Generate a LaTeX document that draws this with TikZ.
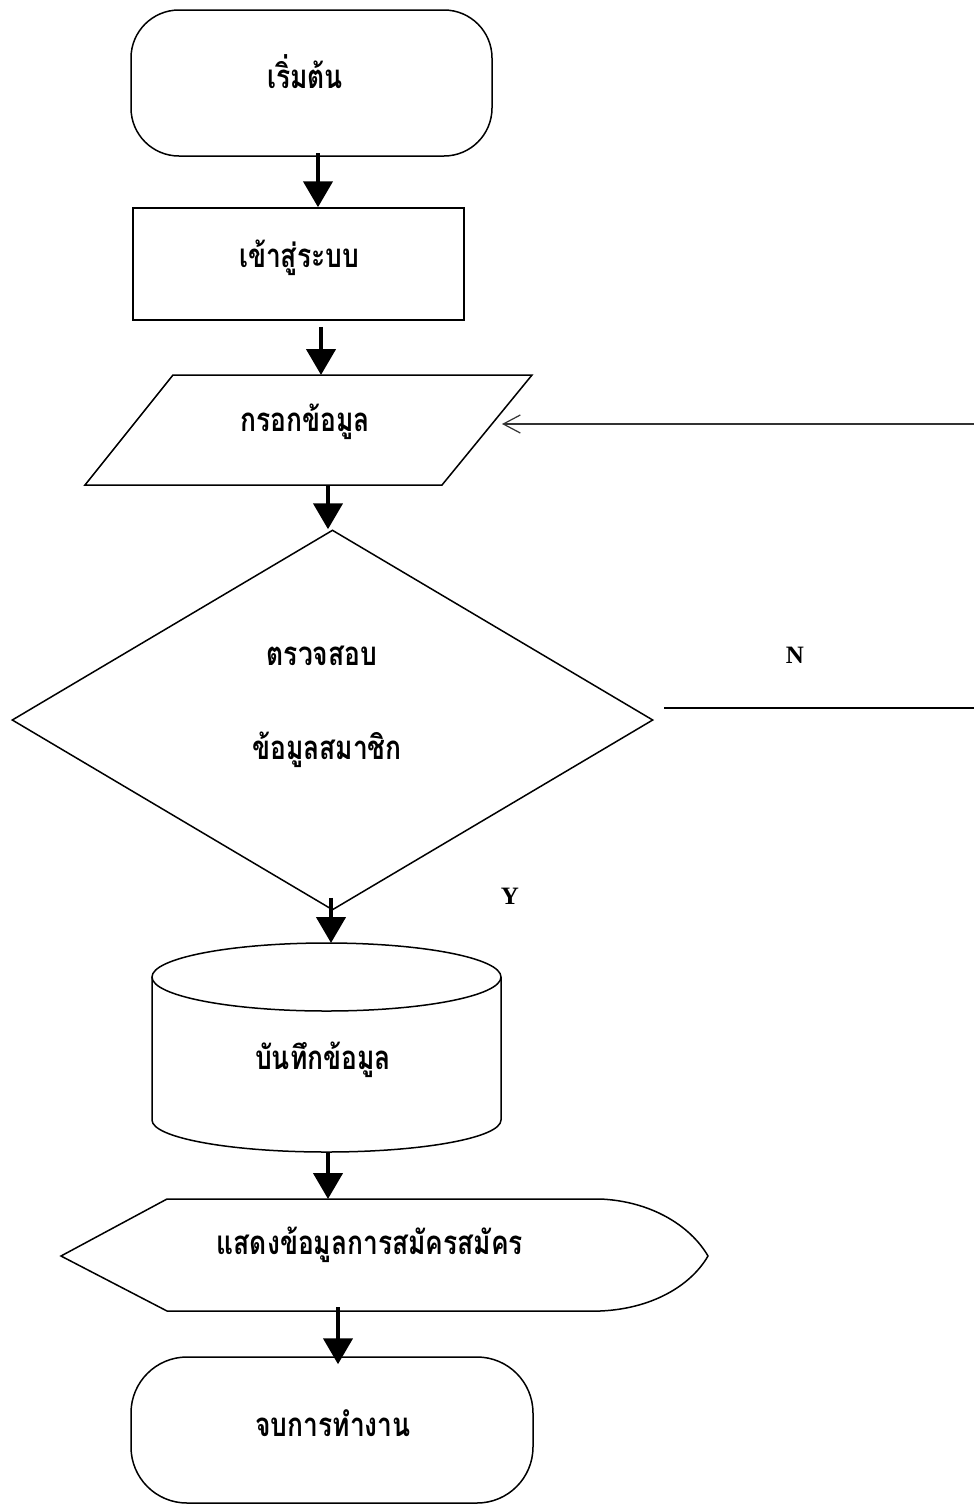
\documentclass[tikz,border=0pt]{standalone}
\usepackage{fontspec}
\setmainfont{Liberation Serif}
\newfontfamily\thaifont[Script=Thai,FakeStretch=0.8]{Loma}
\usetikzlibrary{arrows.meta,shapes.geometric}
\begin{document}
\begin{tikzpicture}[x=1pt,y=-1pt,
  outline/.style={draw=black,line width=1.5pt},
  term/.style={outline,rectangle,inner sep=0pt},
  ghost/.style={rectangle,inner sep=0pt,outer sep=0pt},
  lbl/.style={font=\thaifont\bfseries\fontsize{33}{38}\selectfont,inner sep=0pt},
  yn/.style={font=\bfseries\fontsize{25}{28}\selectfont,inner sep=0pt},
  flow/.style={line width=4.5pt,-{Triangle[length=26pt,width=29pt]}},
  back/.style={line width=1.2pt,draw=black!80,-{Straight Barb[length=17pt,width=18pt,line width=1.2pt]}}]
\useasboundingbox (0,0) rectangle (974,1505);

% terminals and process box
\node[term,rounded corners=48pt,minimum width=361pt,minimum height=146pt] (start) at (311.5,83) {};
\node[lbl] (startT) at (305,72) {เริ่มต้น};

\node[outline,rectangle,inner sep=0pt,minimum width=331pt,minimum height=112pt] (login) at (298.5,264) {};
\node[lbl] (loginT) at (299,258) {เข้าสู่ระบบ};

% input parallelogram
\node[ghost,minimum width=447pt,minimum height=110pt] (input) at (308.5,430) {};
\draw[outline] (173,375) -- (532,375) -- (442,485) -- (85,485) -- cycle;
\node[lbl] (inputT) at (305,422) {กรอกข้อมูล};

% decision
\node[outline,diamond,inner sep=0pt,minimum width=641pt,minimum height=380pt] (check) at (332.5,720) {};
\node[lbl] (checkA) at (322,656) {ตรวจสอบ};
\node[lbl] (checkB) at (327,750) {ข้อมูลสมาชิก};

% stored data cylinder
\node[ghost,minimum width=349pt,minimum height=209pt] (save) at (326.5,1047.5) {};
\draw[outline] (326.5,977) ellipse [x radius=174.5pt, y radius=34pt];
\draw[outline] (152,977) -- (152,1120)
  arc[start angle=180, end angle=360, x radius=174.5pt, y radius=32pt] -- (501,977);
\node[lbl] (saveT) at (323,1060) {บันทึกข้อมูล};

% display shape
\node[ghost,minimum width=647pt,minimum height=112pt] (show) at (384.5,1255) {};
\draw[outline] (61,1256) -- (167,1199) -- (600,1199)
  .. controls (650,1201) and (690,1225) .. (708,1256)
  .. controls (690,1287) and (650,1309) .. (600,1311)
  -- (167,1311) -- cycle;
\node[lbl] (showT) at (370,1245) {แสดงข้อมูลการสมัครสมัคร};

\node[term,rounded corners=56pt,minimum width=402pt,minimum height=146pt] (finish) at (332,1430) {};
\node[lbl] (finishT) at (333,1423) {จบการทำงาน};

% decision outcomes
\node[yn] (no) at (795,655) {N};
\node[yn] (yes) at (510,896) {Y};
\coordinate (noA) at (664,708);
\coordinate (noB) at (974,708);
\draw[outline] (noA) -- (noB);
\coordinate (backR) at (974,424);
\coordinate (backL) at (502,424);
\draw[back] (backR) -- (backL);

% main flow
\draw[flow] ([xshift=6.5pt,yshift=3.5pt]start.south) -- ([xshift=6.5pt]start.south |- login.north);
\draw[flow] ([xshift=22.5pt,yshift=-6pt]login.south) -- ([xshift=22.5pt]login.south |- input.north);
\draw[flow] ([xshift=19.5pt]input.south) -- ([xshift=19.5pt]input.south |- check.north);
\draw[flow] ([xshift=-1.5pt,yshift=13pt]check.south) -- ([xshift=-1.5pt]check.south |- save.north);
\draw[flow] ([xshift=1.5pt]save.south) -- ([xshift=1.5pt]save.south |- show.north);
\draw[flow] ([xshift=-46.5pt,yshift=4pt]show.south) -- ([xshift=-46.5pt,yshift=-8pt]show.south |- finish.north);
\end{tikzpicture}
\end{document}
